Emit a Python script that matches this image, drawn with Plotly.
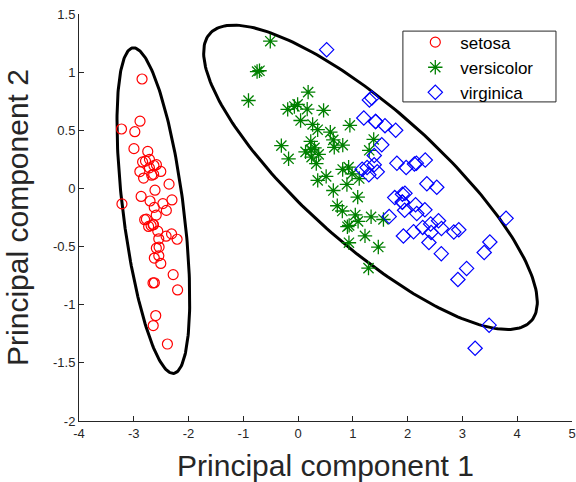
import numpy as np
import plotly.graph_objects as go

# PCA scores of the iris data (PC1, PC2)
setosa_pc1 = [-2.684,-2.714,-2.889,-2.745,-2.729,-2.281,-2.821,-2.626,-2.886,-2.673,
              -2.507,-2.613,-2.786,-3.224,-2.645,-2.386,-2.624,-2.648,-2.200,-2.588,
              -2.310,-2.544,-3.216,-2.303,-2.356,-2.507,-2.469,-2.562,-2.640,-2.632,
              -2.587,-2.410,-2.649,-2.599,-2.637,-2.866,-2.625,-2.801,-2.981,-2.590,
              -2.770,-2.849,-2.997,-2.406,-2.209,-2.714,-2.538,-2.839,-2.543,-2.703]
setosa_pc2 = [-0.319,0.177,0.145,0.318,-0.327,-0.741,0.089,-0.163,0.578,0.114,
              -0.645,-0.015,0.235,0.511,-1.179,-1.338,-0.811,-0.312,-0.873,-0.514,
              -0.391,-0.433,-0.133,-0.099,0.037,0.146,-0.131,-0.368,-0.312,0.197,
              0.204,-0.411,-0.813,-1.093,0.121,-0.069,-0.599,-0.269,0.488,-0.229,
              -0.264,0.941,0.342,-0.189,-0.437,0.250,-0.504,0.228,-0.579,-0.108]
versicolor_pc1 = [1.285,0.932,1.464,0.183,1.088,0.642,1.095,-0.749,1.044,-0.009,
                  -0.508,0.512,0.265,0.985,-0.174,0.928,0.660,0.236,0.945,0.045,
                  1.116,0.358,1.298,0.922,0.715,0.900,1.332,1.558,0.813,-0.306,
                  -0.068,-0.190,0.136,1.380,0.588,0.807,1.221,0.815,0.246,0.166,
                  0.465,0.891,0.231,-0.705,0.357,0.332,0.376,0.643,-0.906,0.299]
versicolor_pc2 = [-0.685,-0.318,-0.504,0.828,-0.075,0.418,-0.283,1.005,-0.228,0.723,
                  1.266,0.104,0.550,0.125,0.255,-0.467,0.353,0.334,0.543,0.584,
                  0.085,0.069,0.328,0.183,-0.149,-0.329,-0.244,-0.267,0.163,0.368,
                  0.705,0.680,0.314,0.421,0.484,-0.194,-0.408,0.372,0.269,0.682,
                  0.671,0.034,0.404,1.012,0.505,0.213,0.293,-0.018,0.756,0.349]
virginica_pc1 = [2.531,1.415,2.617,1.972,2.350,3.397,0.521,2.933,2.321,2.917,
                 1.662,1.803,2.166,1.346,1.586,1.904,1.950,3.487,3.796,1.301,
                 2.428,1.199,3.500,1.389,2.275,2.614,1.259,1.291,2.124,2.388,
                 2.842,3.231,2.159,1.444,1.781,3.076,2.144,1.905,1.169,2.108,
                 2.314,1.922,1.415,2.563,2.419,1.944,1.527,1.764,1.901,1.390]
virginica_pc2 = [0.010,0.575,-0.344,0.180,0.040,-0.551,1.193,-0.356,0.244,-0.783,
                 -0.242,0.216,-0.216,0.777,0.540,-0.119,-0.042,-1.176,-0.257,0.761,
                 -0.378,0.606,-0.461,0.204,-0.335,-0.561,0.180,0.117,0.210,-0.465,
                 -0.375,-1.374,0.217,0.143,0.500,-0.688,-0.140,-0.049,0.165,-0.372,
                 -0.184,-0.409,0.575,-0.278,-0.305,-0.188,0.375,-0.079,-0.117,0.283]

x_ticks = [-4, -3, -2, -1, 0, 1, 2, 3, 4, 5]
x_tick_text = ["-4", "-3", "-2", "-1", "0", "1", "2", "3", "4", "5"]
y_ticks = [-2, -1.5, -1, -0.5, 0, 0.5, 1, 1.5]
y_tick_text = ["-2", "-1.5", "-1", "-0.5", "0", "0.5", "1", "1.5"]
# (major, minor) axis scale factors of the cluster ellipses
setosa_ellipse_scale = (3.0, 3.0)
other_ellipse_scale = (2.98, 2.25)


def cov_ellipse(xs, ys, scale, n=240):
    pts = np.vstack([xs, ys])
    mu = pts.mean(axis=1)
    cov = np.cov(pts)
    vals, vecs = np.linalg.eigh(cov)  # ascending: minor, major
    k = np.array([scale[1], scale[0]])
    t = np.linspace(0, 2 * np.pi, n)
    circ = np.vstack([np.cos(t), np.sin(t)])
    e = vecs @ ((k * np.sqrt(vals))[:, None] * circ) + mu[:, None]
    return e[0], e[1]


fig = go.Figure()

ex1, ey1 = cov_ellipse(setosa_pc1, setosa_pc2, setosa_ellipse_scale)
ex2, ey2 = cov_ellipse(versicolor_pc1 + virginica_pc1, versicolor_pc2 + virginica_pc2, other_ellipse_scale)
for ex, ey in [(ex1, ey1), (ex2, ey2)]:
    fig.add_trace(go.Scatter(x=ex, y=ey, mode="lines", line=dict(color="black", width=3),
                             showlegend=False, hoverinfo="skip"))

fig.add_trace(go.Scatter(x=setosa_pc1, y=setosa_pc2, mode="markers", name="setosa",
                         marker=dict(symbol="circle-open", size=10, color="red", line=dict(width=1.2))))
fig.add_trace(go.Scatter(x=versicolor_pc1, y=versicolor_pc2, mode="markers", name="versicolor",
                         marker=dict(symbol="asterisk-open", size=12, color="rgb(0,128,0)",
                                     line=dict(width=1.3, color="rgb(0,128,0)"))))
fig.add_trace(go.Scatter(x=virginica_pc1, y=virginica_pc2, mode="markers", name="virginica",
                         marker=dict(symbol="diamond-open", size=11, color="blue", line=dict(width=1.2))))

font = "Liberation Sans, Arial, sans-serif"
fig.update_layout(
    width=576, height=482,
    margin=dict(l=79, r=4, t=14, b=61, autoexpand=False),
    paper_bgcolor="white", plot_bgcolor="white",
    font=dict(family=font, color="#262626"),
    showlegend=True,
    legend=dict(x=0.672, y=0.974, xanchor="left", yanchor="top",
                borderwidth=0, bgcolor="rgba(0,0,0,0)",
                font=dict(size=17, family=font, color="black"),
                itemwidth=40, tracegroupgap=0),
    shapes=[dict(type="rect", xref="paper", yref="paper", x0=0.657, x1=0.9675, y0=0.784, y1=0.958,
                 line=dict(color="#262626", width=1), fillcolor="rgba(0,0,0,0)", layer="below")],
    xaxis=dict(range=[-4, 5], tickvals=x_ticks, ticktext=x_tick_text, ticks="inside", ticklen=5,
               tickcolor="#262626", showline=True, linecolor="#262626", linewidth=1, showgrid=False,
               zeroline=False, automargin=False, tickfont=dict(size=13),
               title=dict(text="Principal component 1", font=dict(size=30))),
    yaxis=dict(range=[-2, 1.5], tickvals=y_ticks, ticktext=y_tick_text, ticks="inside", ticklen=5,
               tickcolor="#262626", showline=True, linecolor="#262626", linewidth=1, showgrid=False,
               zeroline=False, automargin=False, tickfont=dict(size=13),
               title=dict(text="Principal component 2", font=dict(size=30))),
)

fig.write_html("out.html", config={"displayModeBar": False},
               post_script="document.body.style.margin='0';document.body.style.overflow='hidden';")
